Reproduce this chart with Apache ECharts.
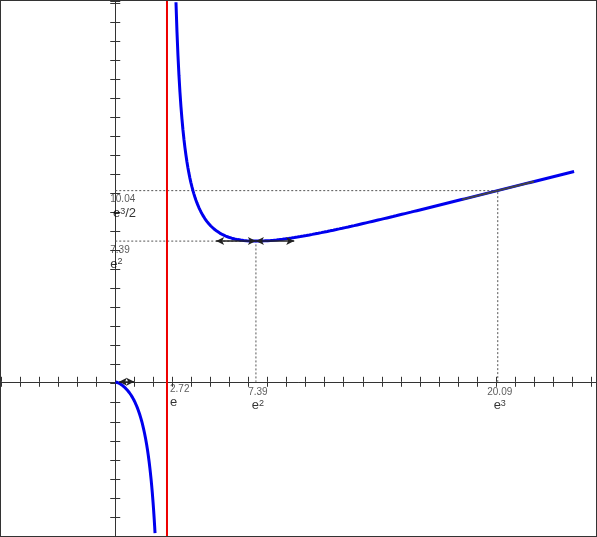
<!DOCTYPE html>
<html><head><meta charset="utf-8">
<script src="https://cdn.jsdelivr.net/npm/echarts@6/dist/echarts.min.js"></script>
<style>html,body{margin:0;padding:0;background:#fff}#c{width:597px;height:537px;box-sizing:border-box;border:1px solid #333}</style>
</head><body><div id="c"></div>
<script>
// f(x) = x / (ln x - 1)
var xRange = [-6, 25.25];
var yRange = [-8.1, 20];
var asymptoteX = 2.718;
var minPoint = [7.389, 7.389];
var tanPoint = [20.09, 10.04];
var leftBranch = [0.02, 2.09];
var rightBranch = [3.19, 24.1];
var hTangent = [5.3, 9.4];
var sTangent = [18.2, 22];

function f(x){ return x / (Math.log(x) - 1); }
function sample(a, b, n){
  var out = [];
  for (var i = 0; i <= n; i++) { var x = a + (b - a) * i / n; out.push([x, f(x)]); }
  return out;
}
var slope = (Math.log(tanPoint[0]) - 2) / Math.pow(Math.log(tanPoint[0]) - 1, 2);

var mycharts = echarts.init(document.getElementById('c'));
var axBase = {type:'value', splitLine:{show:false}, axisLabel:{show:false}, interval:1};
var lineSt = {color:'#333', width:1};
var sup = {sup:{fontSize:9, verticalAlign:'top', padding:[0,0,7,0], color:'#000'}, b:{fontSize:13,color:'#000'}};
function lab(x, y, text, pos, off){
  return {value:[x, y], label:{show:true, position:pos, align:pos=='right'?'left':'center', offset:off, formatter:text, fontSize:10, color:'#333', lineHeight:14, rich:sup}};
}
var option = {
  animation:false,
  grid:{left:0, right:0, top:0, bottom:0},
  xAxis:[
    Object.assign({}, axBase, {min:xRange[0], max:xRange[1], axisLine:{onZero:true, lineStyle:lineSt}, axisTick:{length:5, lineStyle:lineSt}}),
    Object.assign({}, axBase, {min:xRange[0], max:xRange[1], position:'bottom', axisLine:{onZero:true, lineStyle:lineSt}, axisTick:{inside:true, length:5, lineStyle:lineSt}})
  ],
  yAxis:[
    Object.assign({}, axBase, {min:yRange[0], max:yRange[1], axisLine:{onZero:true, lineStyle:lineSt}, axisTick:{length:5, lineStyle:lineSt}}),
    Object.assign({}, axBase, {min:yRange[0], max:yRange[1], position:'left', axisLine:{onZero:true, lineStyle:lineSt}, axisTick:{inside:true, length:5, lineStyle:lineSt}})
  ],
  series:[
    {type:'line', showSymbol:false, data:[[0,tanPoint[1]],tanPoint,[tanPoint[0],0]], lineStyle:{color:'#555', width:1, type:[2,2]}},
    {type:'line', showSymbol:false, data:[[0,minPoint[1]],minPoint,[minPoint[0],0]], lineStyle:{color:'#555', width:1, type:[2,2]}},
    {type:'line', showSymbol:false, data:[[asymptoteX,yRange[0]],[asymptoteX,yRange[1]]], lineStyle:{color:'#e00', width:2}},
    {type:'line', showSymbol:false, data:sample(leftBranch[0], leftBranch[1], 200), lineStyle:{color:'#00e', width:3}},
    {type:'line', showSymbol:false, data:sample(rightBranch[0], rightBranch[1], 400), lineStyle:{color:'#00e', width:3}},
    {type:'line', showSymbol:false, data:[], markLine:{silent:true, symbol:['arrow','arrow'], symbolSize:[6,8], label:{show:false}, lineStyle:{color:'#222', width:1.5, type:'solid'},
      data:[
        [{coord:[minPoint[0],minPoint[1]]},{coord:[hTangent[0],minPoint[1]]}],
        [{coord:[minPoint[0],minPoint[1]]},{coord:[hTangent[1],minPoint[1]]}],
        [{coord:[0.2,0]},{coord:[1,0]}]
      ]}},
    {type:'line', showSymbol:false, data:[[sTangent[0],tanPoint[1]+slope*(sTangent[0]-tanPoint[0])],[sTangent[1],tanPoint[1]+slope*(sTangent[1]-tanPoint[0])]], lineStyle:{color:'#444', width:2}},
    {type:'scatter', symbolSize:0, data:[
      lab(2.72, 0, '2.72\n{b|e}', 'right', [-2,14]),
      lab(7.39, 0, '7.39\n{b|e}{sup|2}', 'bottom', [2,-2]),
      lab(20.09, 0, '20.09\n{b|e}{sup|3}', 'bottom', [2,-2]),
      lab(0, 7.39, '7.39\n{b|e}{sup|2}', 'right', [-10,16]),
      lab(0, 10.04, '10.04\n {b|e}{sup|3}{b|/2}', 'right', [-10,16])
    ]}
  ]
};
mycharts.setOption(option);
</script></body></html>
